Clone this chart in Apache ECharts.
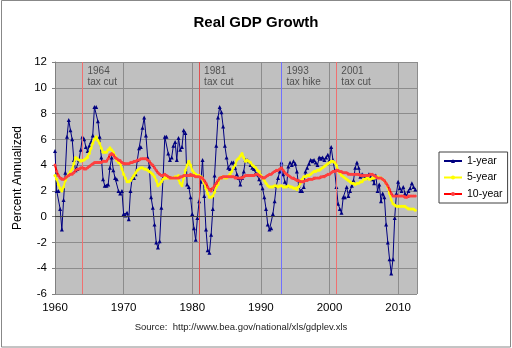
<!DOCTYPE html>
<html><head><meta charset="utf-8">
<script src="https://cdn.jsdelivr.net/npm/echarts@6/dist/echarts.min.js"></script>
<style>html,body{margin:0;padding:0;background:#fff}#c{width:512px;height:348px;}</style>
</head><body><div id="c"></div>
<script>
// Quarterly data, first point = 1960 Q1
const startYear = 1960;
const oneYear = [
 5.1, 2.0, 2.0, 0.6,
 -1.0, 1.3, 3.4, 6.2,
 7.5, 6.7, 6.0, 4.4,
 3.6, 3.7, 4.4, 5.2,
 6.2, 6.0, 5.4, 5.1,
 5.5, 5.8, 6.3, 8.5,
 8.5, 7.4, 6.2, 4.6,
 2.9, 2.4, 2.4, 2.5,
 3.8, 4.6, 3.6, 3.0,
 2.9, 2.0, 1.8, 2.0,
 0.2, 0.1, 0.3, -0.2,
 2.0, 3.0, 3.0, 3.3,
 4.4, 5.3, 5.4, 6.9,
 7.7, 6.3, 4.6, 3.9,
 1.5, 0.7, -0.6, -2.0,
 -2.4, -1.9, 0.7, 3.0,
 6.2, 6.2, 4.9, 4.4,
 4.6, 5.5, 5.8, 4.4,
 6.1, 5.2, 5.4, 6.7,
 6.5, 2.5, 2.3, 1.5,
 0.2, -0.9, -1.8, -0.1,
 1.2, 2.7, 4.4, 1.6,
 -1.0, -2.6, -2.8, -1.4,
 0.6, 3.2, 5.5, 7.7,
 8.5, 8.1, 7.0, 5.5,
 4.6, 3.8, 3.7, 4.2,
 4.2, 3.8, 3.3, 3.0,
 2.5, 3.0, 3.5, 4.4,
 4.4, 4.3, 4.0, 3.8,
 3.7, 3.4, 3.3, 2.9,
 2.6, 2.2, 1.5, 0.6,
 -0.6, -1.0, -0.9, 0.2,
 1.2, 2.4, 3.0, 3.5,
 4.2, 3.3, 2.7, 2.4,
 3.9, 4.2, 4.0, 4.3,
 4.1, 3.5, 2.4, 2.0,
 2.0, 2.3, 3.5, 3.8,
 4.1, 4.4, 4.3, 4.4,
 4.2, 4.0, 4.6, 4.5,
 4.6, 4.4, 4.6, 4.8,
 4.4, 5.4, 4.4, 3.6,
 2.3, 1.0, 0.6, 0.3,
 1.5, 1.5, 2.3, 1.6,
 2.0, 2.4, 2.8, 3.8,
 4.2, 3.8, 3.1, 3.3,
 3.2, 3.1, 3.0, 3.3,
 3.1, 2.9, 2.6, 3.2,
 2.0, 2.5, 1.2, 1.8,
 1.5, -0.6, -2.0, -3.3,
 -4.4, -3.3, -0.1, 1.8,
 2.7, 2.2, 2.0, 2.3,
 1.8, 1.6, 2.0, 2.2,
 2.6, 2.3, 2.1
];
const fiveYear = [
 3.2, 2.9, 2.5, 2.2,
 2.0, 2.3, 2.8, 3.1,
 3.3, 3.5, 3.7, 4.1,
 4.6, 4.5, 4.4, 4.3,
 4.35, 4.4, 4.5, 4.6,
 4.9, 5.3, 5.7, 6.0,
 6.2, 5.9, 5.7, 5.3,
 5.0, 5.0, 5.0, 5.2,
 5.35, 5.2, 5.0, 4.7,
 4.35, 4.2, 4.1, 3.7,
 3.3, 3.0, 2.7, 2.7,
 2.8, 3.0, 3.2, 3.4,
 3.6, 3.7, 3.8, 3.8,
 3.7, 3.7, 3.6, 3.5,
 3.4, 3.3, 3.1, 2.8,
 2.4, 2.5, 2.7, 2.9,
 3.05, 3.0, 3.0, 3.0,
 3.0, 3.0, 3.1, 3.1,
 3.2, 2.6, 2.4, 3.0,
 3.6, 4.0, 4.3, 4.0,
 3.6, 3.4, 3.3, 3.2,
 3.2, 3.1, 3.0, 2.6,
 2.2, 1.8, 1.5, 1.5,
 1.6, 1.9, 2.3, 2.5,
 3.0, 3.0, 3.1, 3.0,
 3.0, 3.1, 3.3, 3.5,
 3.8, 4.0, 4.4, 4.5,
 4.7, 4.9, 4.6, 4.3,
 4.4, 4.3, 4.2, 4.0,
 3.9, 3.8, 3.6, 3.5,
 3.2, 3.0, 2.8, 2.6,
 2.4, 2.3, 2.3, 2.3,
 2.4, 2.4, 2.3, 2.4,
 2.4, 2.3, 2.3, 2.3,
 2.4, 2.3, 2.3, 2.2,
 2.2, 2.1, 2.3, 2.6,
 2.9, 3.1, 3.1, 3.2,
 3.2, 3.3, 3.4, 3.5,
 3.5, 3.6, 3.6, 3.7,
 3.8, 3.9, 4.0, 4.1,
 4.2, 4.3, 4.3, 4.2,
 4.0, 3.6, 3.4, 3.2,
 3.1, 3.0, 2.9, 2.8,
 2.7, 2.6, 2.6, 2.5,
 2.6, 2.6, 2.7, 2.7,
 2.9, 2.9, 3.0, 2.9,
 2.9, 3.0, 3.0, 3.1,
 3.1, 3.0, 3.0, 2.9,
 2.8, 2.6, 2.3, 1.8,
 1.3, 1.0, 0.9, 0.8,
 0.8, 0.8, 0.8, 0.8,
 0.8, 0.7, 0.6, 0.6,
 0.6, 0.6, 0.5
];
const tenYear = [
 4.0, 3.5, 3.2, 3.0,
 2.9, 2.9, 3.0, 3.1,
 3.2, 3.3, 3.3, 3.4,
 3.6, 3.7, 3.7, 3.8,
 3.8, 3.7, 3.7, 3.8,
 3.9, 4.0, 4.1, 4.2,
 4.2, 4.2, 4.2, 4.2,
 4.3, 4.3, 4.3, 4.5,
 4.8, 4.9, 4.8, 4.6,
 4.5, 4.4, 4.35, 4.2,
 4.1, 4.1, 4.1, 4.1,
 4.2, 4.2, 4.3, 4.3,
 4.4, 4.4, 4.5, 4.5,
 4.5, 4.5, 4.4, 4.3,
 4.1, 4.0, 3.8, 3.6,
 3.4, 3.3, 3.2, 3.2,
 3.3, 3.2, 3.1, 3.0,
 3.0, 3.0, 3.0, 3.0,
 3.0, 3.1, 3.1, 3.2,
 3.2, 3.2, 3.2, 3.3,
 3.2, 3.2, 3.1, 3.1,
 3.1, 3.0, 3.0, 2.8,
 2.6, 2.3, 2.1, 2.0,
 2.2, 2.4, 2.6, 2.8,
 3.0, 3.0, 3.1, 3.1,
 3.1, 3.1, 3.1, 3.1,
 3.1, 3.0, 3.0, 3.0,
 3.0, 3.0, 3.1, 3.2,
 3.2, 3.2, 3.2, 3.2,
 3.2, 3.3, 3.3, 3.2,
 3.1, 3.0, 3.0, 3.1,
 3.2, 3.3, 3.3, 3.4,
 3.5, 3.6, 3.6, 3.7,
 3.8, 3.6, 3.4, 3.3,
 3.2, 3.1, 3.0, 3.0,
 2.9, 2.8, 2.8, 2.7,
 2.7, 2.7, 2.8, 2.8,
 2.9, 2.9, 2.9, 3.0,
 3.0, 3.0, 3.0, 3.1,
 3.1, 3.1, 3.2, 3.3,
 3.3, 3.4, 3.5, 3.5,
 3.6, 3.6, 3.5, 3.5,
 3.4, 3.4, 3.4, 3.3,
 3.3, 3.3, 3.3, 3.3,
 3.3, 3.3, 3.2, 3.2,
 3.2, 3.2, 3.2, 3.2,
 3.3, 3.3, 3.2, 3.1,
 3.0, 3.0, 3.0, 2.9,
 2.8, 2.6, 2.4, 2.1,
 1.8, 1.6, 1.6, 1.6,
 1.6, 1.6, 1.6, 1.6,
 1.5, 1.5, 1.6, 1.6,
 1.6, 1.6, 1.6
];
const seriesNames = ['1-year', '5-year', '10-year'];
const events = [
  {year: 1964, label: '1964\ntax cut', color: '#F07070'},
  {year: 1981, label: '1981\ntax cut', color: '#E05050'},
  {year: 1993, label: '1993\ntax hike', color: '#7070FF'},
  {year: 2001, label: '2001\ntax cut', color: '#F07070'}
];
const yTicks = {min: -6, max: 12, step: 2};
const xTicks = {min: 1960, max: 2012.75, step: 10};

const toPairs = arr => arr.map((v, i) => [startYear + i / 4, v]);
const FONT = '"Liberation Sans", Arial, sans-serif';

const chart = echarts.init(document.getElementById('c'), null, {renderer: 'canvas'});
chart.setOption({
  animation: false,
  backgroundColor: '#fff',
  textStyle: {fontFamily: FONT},
  title: {
    text: 'Real GDP Growth', left: 'center', top: 10,
    textStyle: {fontSize: 15, fontWeight: 'bold', color: '#000', fontFamily: FONT}
  },
  grid: {left: 55, right: 95, top: 62, bottom: 54, show: true, backgroundColor: '#C0C0C0', borderWidth: 0},
  legend: {
    data: seriesNames, orient: 'vertical', left: 439, top: 152,
    padding: [3, 5, 3, 4], itemGap: 4.5, itemWidth: 18, itemHeight: 5,
    backgroundColor: '#fff', borderColor: '#404040', borderWidth: 1, borderRadius: 0,
    textStyle: {fontSize: 10.5, color: '#000', fontFamily: FONT, lineHeight: 12}
  },
  xAxis: {
    type: 'value', min: xTicks.min, max: xTicks.max, interval: xTicks.step,
    axisLine: {show: false, onZero: false}, axisTick: {show: false},
    axisLabel: {fontSize: 11.5, color: '#000', margin: 8, fontFamily: FONT, showMaxLabel: false,
      formatter: v => (v % 10 === 0 ? String(v) : '')},
    splitLine: {show: true, lineStyle: {color: '#8C8C8C', width: 1}}
  },
  yAxis: {
    type: 'value', min: yTicks.min, max: yTicks.max, interval: yTicks.step,
    name: 'Percent Annualized', nameLocation: 'middle', nameGap: 25, nameRotate: 90,
    nameTextStyle: {fontSize: 12, color: '#000', fontFamily: FONT},
    axisLine: {show: true, lineStyle: {color: '#808080'}},
    axisTick: {show: true, inside: false, length: 3, lineStyle: {color: '#808080'}},
    axisLabel: {fontSize: 11.5, color: '#000', margin: 8, fontFamily: FONT},
    splitLine: {show: true, lineStyle: {color: '#8C8C8C', width: 1}}
  },
  series: [
    {
      type: 'line', name: '_events', data: [], silent: true, z: 1,
      markLine: {
        silent: true, symbol: 'none', animation: false, label: {show: false},
        data: events.map(e => ({xAxis: e.year, lineStyle: {color: e.color, width: 1, type: 'solid'}}))
          .concat([{yAxis: 0, lineStyle: {color: '#404040', width: 1, type: 'solid'}}])
      }
    },
    {
      type: 'scatter', name: '_labels', symbolSize: 0, silent: true, z: 3,
      data: events.map(e => ({value: [e.year, yTicks.max], label: {formatter: e.label}})),
      label: {show: true, position: [5, 3], align: 'left', verticalAlign: 'top',
        fontSize: 10, lineHeight: 11.5, color: '#333', fontFamily: FONT}
    },
    {
      type: 'line', name: seriesNames[0], data: toPairs(oneYear), z: 4,
      symbol: 'triangle', symbolSize: 4, showSymbol: true,
      itemStyle: {color: '#000080'}, lineStyle: {color: '#000080', width: 1}
    },
    {
      type: 'line', name: seriesNames[1], data: toPairs(fiveYear), z: 5,
      symbol: 'circle', symbolSize: 3, showSymbol: true,
      itemStyle: {color: '#FFFF00'}, lineStyle: {color: '#FFFF00', width: 2}
    },
    {
      type: 'line', name: seriesNames[2], data: toPairs(tenYear), z: 6,
      symbol: 'circle', symbolSize: 3, showSymbol: true,
      itemStyle: {color: '#FF4040'}, lineStyle: {color: '#FF0000', width: 2}
    }
  ],
  graphic: [
    {type: 'rect', silent: true, shape: {x: 1.5, y: 0.5, width: 509, height: 346.5},
      style: {fill: 'none', stroke: '#888', lineWidth: 1}},
    {type: 'text', silent: true, x: 241, y: 327,
      style: {text: 'Source:  http://www.bea.gov/national/xls/gdplev.xls', align: 'center', verticalAlign: 'middle',
        font: '9.5px ' + FONT, fill: '#222'}}
  ]
});
</script></body></html>
